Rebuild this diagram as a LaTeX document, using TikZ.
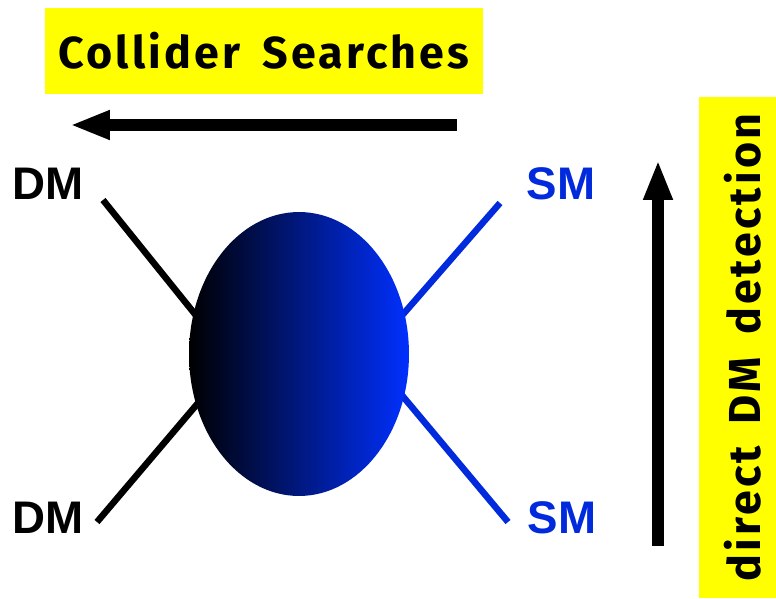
\documentclass[tikz,border=0pt]{standalone}
\usepackage{fontspec}
\setmainfont{Liberation Sans}
\newfontfamily\handfont[LetterSpace=7, WordSpace=1.6]{Fira Sans}
\usepackage{xcolor}
\usetikzlibrary{arrows.meta, positioning, shapes.geometric}
\definecolor{smblue}{RGB}{0,42,220}
\definecolor{blobblue}{RGB}{0,48,255}
\definecolor{boxyellow}{RGB}{255,255,0}

\begin{document}
\begin{tikzpicture}[
    x=0.02cm, y=-0.02cm,
    every node/.style={inner sep=0pt},
    particle/.style={font=\fontsize{26}{26}\selectfont\bfseries},
    banner/.style={rectangle, fill=boxyellow, align=center, font=\handfont\fontsize{25.5}{25.5}\selectfont\bfseries},
    leg/.style={line width=0.13cm},
    bigarr/.style={line width=0.24cm, -{Triangle[length=8mm, width=5.4mm]}},
    blobstyle/.style={ellipse, minimum width=4.4cm, minimum height=5.68cm, left color=black, right color=blobblue, shading angle=90}
]
    \useasboundingbox (0,0) rectangle (776,598);

    % labels
    \node (collider) [banner, minimum width=8.76cm, minimum height=1.74cm] at (264,51) {Collider Searches};
    \node (direct) [banner, minimum width=10.02cm, minimum height=1.54cm, text height=0.9cm, text depth=0pt, rotate=90] at (737.5,347.5) {direct DM detection};

    \node (dmtop) [particle] at (48,184) {DM};
    \node (dmbot) [particle] at (48,518) {DM};
    \node (smtop) [particle, text=smblue] at (561,184) {SM};
    \node (smbot) [particle, text=smblue] at (562,518) {SM};

    % leg ends
    \coordinate (dmtopend) at (103,200);
    \coordinate (dmbotend) at (97,522);
    \coordinate (smtopend) at (500,203);
    \coordinate (smbotend) at (508,522);
    \coordinate (dmtopin) at (215,339);
    \coordinate (dmbotin) at (215,383);
    \coordinate (smtopin) at (385,335);
    \coordinate (smbotin) at (385,375);

    \draw[leg] (dmtopend) -- (dmtopin);
    \draw[leg] (dmbotend) -- (dmbotin);
    \draw[leg, smblue] (smtopend) -- (smtopin);
    \draw[leg, smblue] (smbotend) -- (smbotin);

    \node (blob) [blobstyle] at (299,354) {};

    % arrows
    \coordinate (hstart) at (457,125);
    \coordinate (hend) at (70,125);
    \coordinate (vstart) at (658,546);
    \coordinate (vend) at (658,160);
    \draw[bigarr] (hstart) -- (hend);
    \draw[bigarr] (vstart) -- (vend);
\end{tikzpicture}
\end{document}
